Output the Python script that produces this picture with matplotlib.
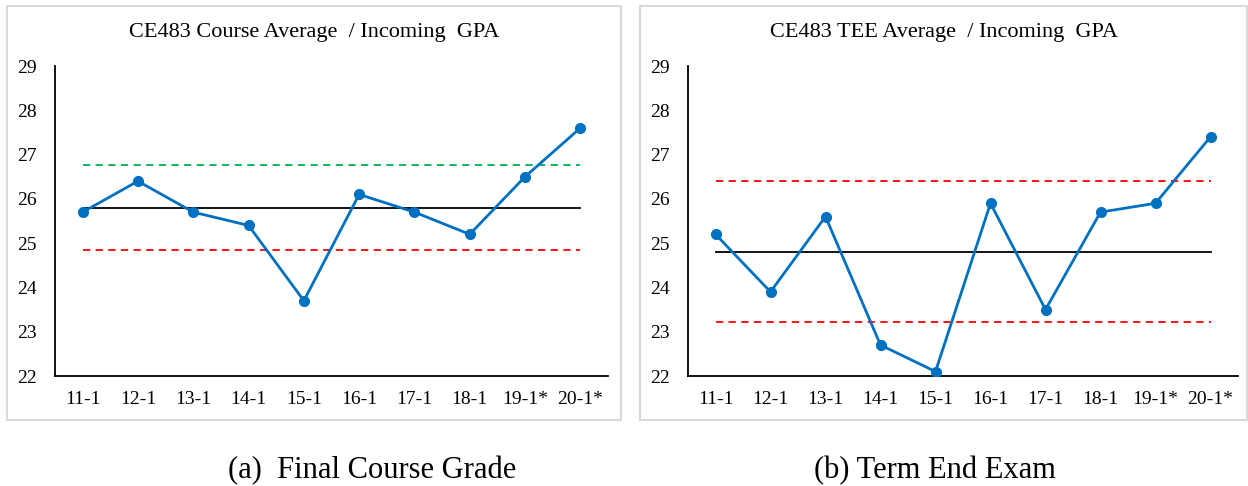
import matplotlib.pyplot as plt
from matplotlib.patches import Rectangle

plt.rcParams['font.family'] = ['Liberation Serif', 'DejaVu Serif']

# Datos
semesters = ['11-1', '12-1', '13-1', '14-1', '15-1', '16-1', '17-1', '18-1', '19-1*', '20-1*']
course_avg = [25.7, 26.4, 25.7, 25.4, 23.7, 26.1, 25.7, 25.2, 26.5, 27.6]
course_mean = 25.8
course_upper = 26.76
course_lower = 24.84

tee_avg = [25.2, 23.9, 25.6, 22.7, 22.1, 25.9, 23.5, 25.7, 25.9, 27.4]
tee_mean = 24.8
tee_upper = 26.4
tee_lower = 23.22

W, H = 1248, 486
fig = plt.figure(figsize=(W / 100, H / 100), dpi=100)

blue = '#0070C0'


def panel(rect, box, title, values, mean, upper, lower, upper_color):
    # marco gris del panel
    x0, x1 = box
    fig.patches.append(Rectangle((x0 / W, 1 - 420 / H), (x1 - x0) / W, (420 - 6) / H,
                                 transform=fig.transFigure, fill=False, ec='#D9D9D9', lw=1.5))
    fig.text((x0 + x1) / 2 / W, 1 - 32 / H, title, ha='center', va='center', fontsize=16)

    ax = fig.add_axes(rect)
    x = range(len(semesters))
    n = len(semesters) - 1
    ax.plot([0, n], [mean, mean], color='black', lw=1.3)
    ax.plot([0, n], [upper, upper], color=upper_color, lw=1.3, ls=(0, (4, 3)))
    ax.plot([0, n], [lower, lower], color='#FF0000', lw=1.3, ls=(0, (4, 3)))
    ax.plot(x, values, color=blue, lw=2, marker='o', ms=7, zorder=3)
    ax.set_xlim(-0.5, n + 0.5)
    ax.set_ylim(22, 29)
    ax.set_xticks(list(x))
    ax.set_xticklabels(semesters)
    ax.set_yticks(range(22, 30))
    ax.tick_params(length=0, labelsize=14, pad=11)
    ax.tick_params(axis='y', pad=13)
    for s in ['top', 'right']:
        ax.spines[s].set_visible(False)
    ax.spines['left'].set_linewidth(1.3)
    ax.spines['bottom'].set_linewidth(1.3)
    ax.patch.set_alpha(0)
    return ax


panel([55 / W, 1 - 376 / H, (608 - 55) / W, (376 - 66) / H], (7, 621),
      'CE483 Course Average  / Incoming  GPA', course_avg,
      course_mean, course_upper, course_lower, '#00B050')
panel([688 / W, 1 - 376 / H, (1238 - 688) / W, (376 - 66) / H], (640, 1247),
      'CE483 TEE Average  / Incoming  GPA', tee_avg,
      tee_mean, tee_upper, tee_lower, '#FF0000')

fig.text(372 / W, 1 - 471 / H, '(a)  Final Course Grade', ha='center', va='center', fontsize=22)
fig.text(935 / W, 1 - 471 / H, '(b) Term End Exam', ha='center', va='center', fontsize=22)

fig.savefig('out.png', dpi=100)
